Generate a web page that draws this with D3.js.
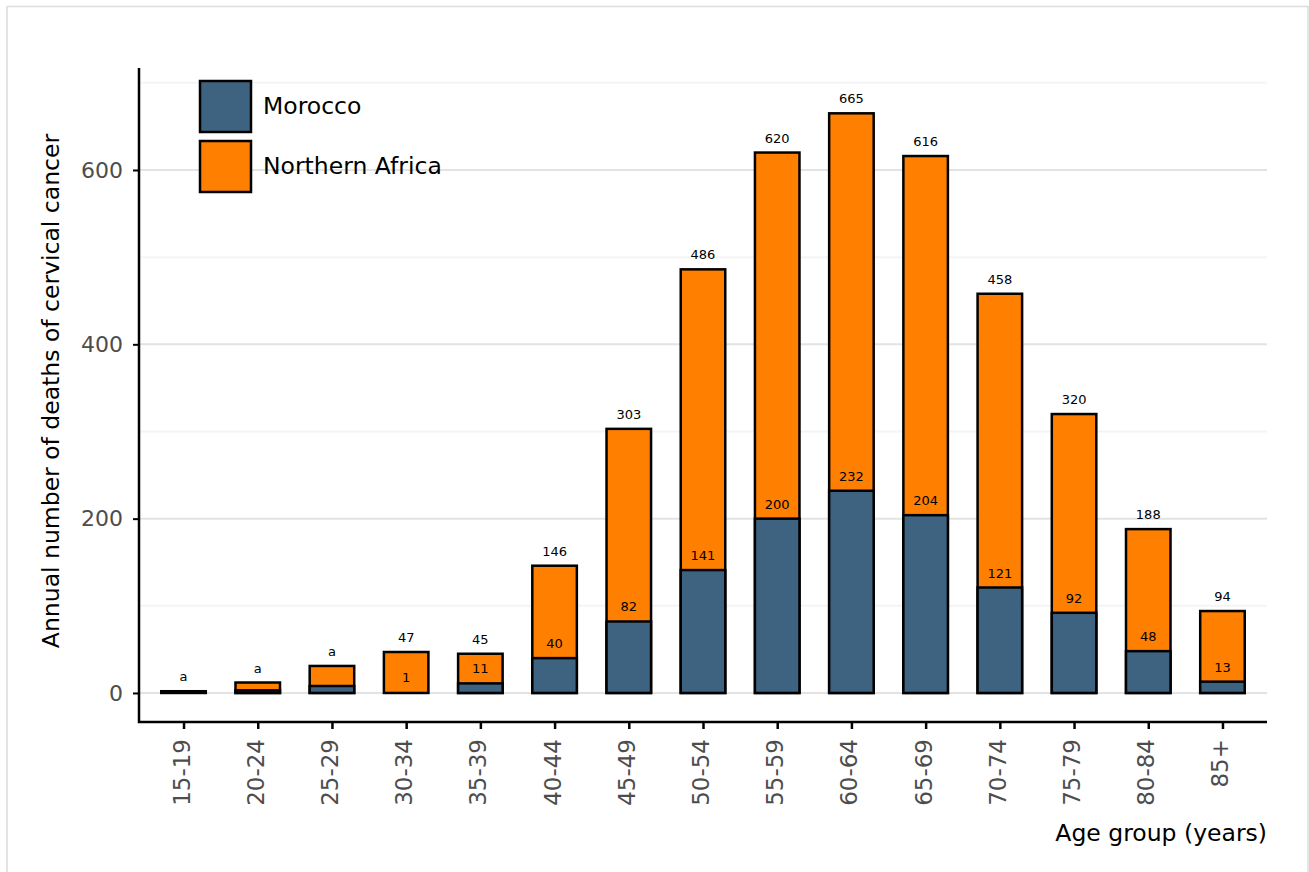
<!DOCTYPE html>
<html>
<head>
<meta charset="utf-8">
<script src="https://cdn.jsdelivr.net/npm/d3@7"></script>
<style>
  body { margin: 0; background: #fff; }
  text { font-family: "DejaVu Sans", sans-serif; }
</style>
</head>
<body>
<svg width="1309" height="872"></svg>
<script>
const ageGroups = ['15-19', '20-24', '25-29', '30-34', '35-39', '40-44', '45-49', '50-54',
    '55-59', '60-64', '65-69', '70-74', '75-79', '80-84', '85+'];
const northernAfrica = [2, 12, 31, 47, 45, 146, 303, 486, 620, 665, 616, 458, 320, 188, 94];
const morocco = [0, 3, 8, 1, 11, 40, 82, 141, 200, 232, 204, 121, 92, 48, 13];
// groups where the label reads "a" instead of the numbers
const smallLabel = ['15-19', '20-24', '25-29'];
const yTicks = [0, 200, 400, 600];
const yMinor = [100, 300, 500, 700];
const seriesNames = ['Morocco', 'Northern Africa'];
const seriesColors = ['#3e6380', '#ff7f00'];

const svg = d3.select('svg');

// outer frame
svg.append('rect')
    .attr('x', 7).attr('y', 6.5)
    .attr('width', 1301).attr('height', 880)
    .attr('fill', 'none')
    .attr('stroke', '#dcdcdc')
    .attr('stroke-width', 1.5);

const plotLeft = 139, plotRight = 1267, plotTop = 68, plotBottom = 722;

const x = d3.scalePoint()
    .domain(ageGroups)
    .range([plotLeft, plotRight])
    .padding(0.6);
const step = x.step();
const barW = step * 0.6;

const y = d3.scaleLinear()
    .domain([-33.3, 717])
    .range([plotBottom, plotTop]);

// grid
svg.append('g').selectAll('line')
    .data(yMinor)
    .enter().append('line')
    .attr('x1', plotLeft).attr('x2', plotRight)
    .attr('y1', d => y(d)).attr('y2', d => y(d))
    .attr('stroke', '#f4f4f4')
    .attr('stroke-width', 2);

svg.append('g').selectAll('line')
    .data(yTicks)
    .enter().append('line')
    .attr('x1', plotLeft).attr('x2', plotRight)
    .attr('y1', d => y(d)).attr('y2', d => y(d))
    .attr('stroke', '#e3e3e3')
    .attr('stroke-width', 2);

const rows = ageGroups.map((g, i) => ({ group: g, na: northernAfrica[i], ma: morocco[i] }));

// Northern Africa bars (behind)
svg.append('g').selectAll('rect')
    .data(rows)
    .enter().append('rect')
    .attr('x', d => x(d.group) - barW / 2)
    .attr('width', barW)
    .attr('y', d => y(d.na))
    .attr('height', d => y(0) - y(d.na))
    .attr('fill', seriesColors[1])
    .attr('stroke', '#000')
    .attr('stroke-width', 2.5);

// Morocco bars (front)
svg.append('g').selectAll('rect')
    .data(rows.filter(d => d.ma > 1))
    .enter().append('rect')
    .attr('x', d => x(d.group) - barW / 2)
    .attr('width', barW)
    .attr('y', d => y(d.ma))
    .attr('height', d => y(0) - y(d.ma))
    .attr('fill', seriesColors[0])
    .attr('stroke', '#000')
    .attr('stroke-width', 2.5);

// value labels
svg.append('g').selectAll('text')
    .data(rows)
    .enter().append('text')
    .attr('x', d => x(d.group))
    .attr('y', d => y(d.na) - 10)
    .attr('text-anchor', 'middle')
    .attr('font-size', 13)
    .text(d => smallLabel.includes(d.group) ? 'a' : d.na);

svg.append('g').selectAll('text')
    .data(rows.filter(d => !smallLabel.includes(d.group)))
    .enter().append('text')
    .attr('x', d => x(d.group))
    .attr('y', d => y(d.ma) - 10)
    .attr('text-anchor', 'middle')
    .attr('font-size', 13)
    .text(d => d.ma);

// axes
const yAxis = svg.append('g')
    .attr('transform', `translate(${plotLeft},0)`)
    .call(d3.axisLeft(y).tickValues(yTicks).tickSize(6).tickPadding(10));
yAxis.select('.domain').remove();
yAxis.selectAll('line').attr('stroke', '#000').attr('stroke-width', 2);
yAxis.selectAll('text')
    .attr('font-size', 22)
    .attr('font-family', 'DejaVu Sans')
    .attr('fill', '#4d4d4d');

const xAxis = svg.append('g')
    .attr('transform', `translate(0,${plotBottom})`)
    .call(d3.axisBottom(x).tickSize(7).tickPadding(0));
xAxis.select('.domain').remove();
xAxis.selectAll('line').attr('stroke', '#000').attr('stroke-width', 2.5);
xAxis.selectAll('text')
    .attr('font-size', 23)
    .attr('font-family', 'DejaVu Sans')
    .attr('fill', '#4d4d4d')
    .attr('text-anchor', 'end')
    .attr('dy', null)
    .attr('y', 0)
    .attr('transform', 'translate(5.5,17) rotate(-90)');

svg.append('path')
    .attr('d', `M${plotLeft},${plotTop}V${plotBottom}H${plotRight}`)
    .attr('fill', 'none')
    .attr('stroke', '#000')
    .attr('stroke-width', 2.5);

// axis titles
svg.append('text')
    .attr('transform', 'translate(59,391) rotate(-90)')
    .attr('text-anchor', 'middle')
    .attr('font-size', 23.5)
    .text('Annual number of deaths of cervical cancer');

svg.append('text')
    .attr('x', plotRight)
    .attr('y', 841)
    .attr('text-anchor', 'end')
    .attr('font-size', 23.5)
    .text('Age group (years)');

// legend
const legend = svg.append('g').selectAll('g')
    .data(seriesNames)
    .enter().append('g')
    .attr('transform', (d, i) => `translate(200,${81 + i * 60})`);
legend.append('rect')
    .attr('width', 51).attr('height', 51)
    .attr('fill', (d, i) => seriesColors[i])
    .attr('stroke', '#000')
    .attr('stroke-width', 2.5);
legend.append('text')
    .attr('x', 63)
    .attr('y', 25)
    .attr('dy', '0.35em')
    .attr('font-size', 23.5)
    .text(d => d);
</script>
</body>
</html>
